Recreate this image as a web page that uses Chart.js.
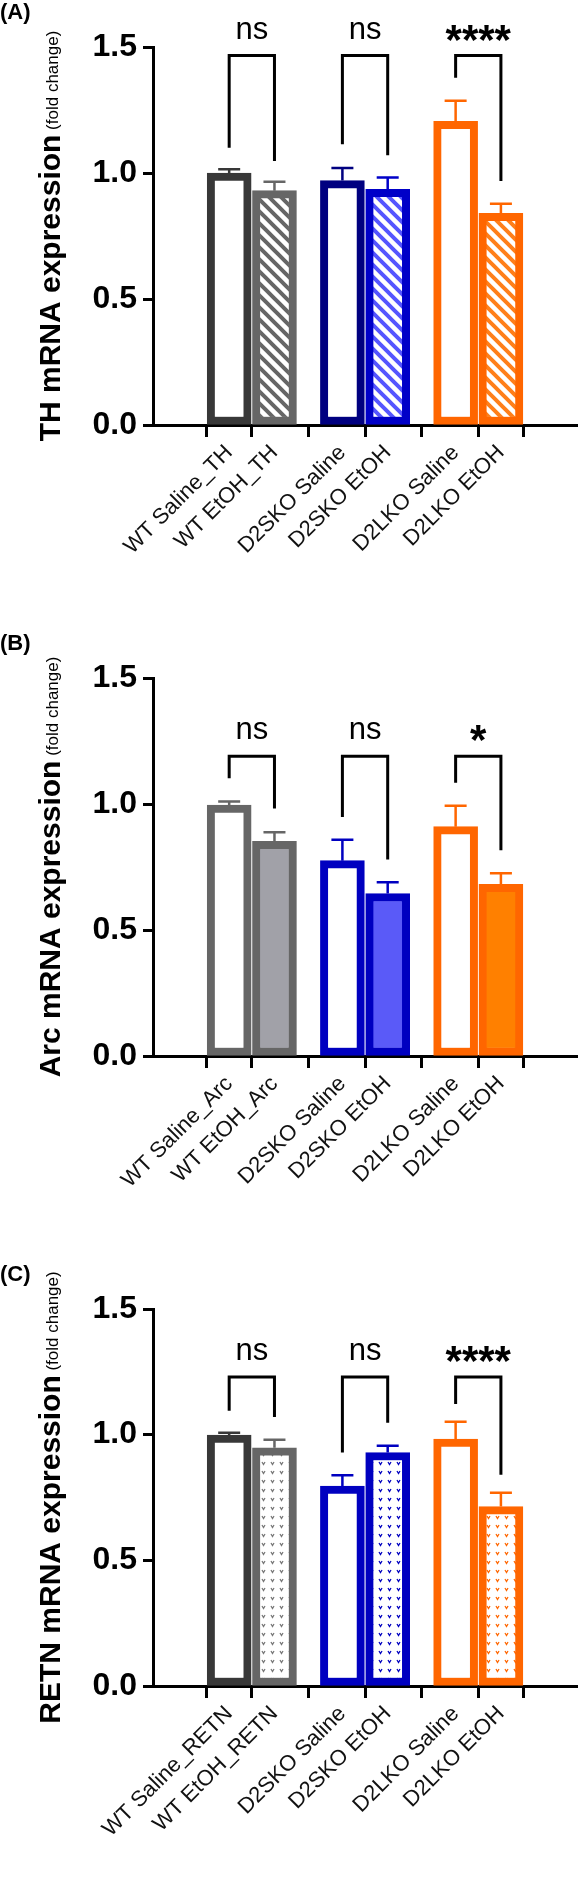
<!DOCTYPE html>
<html>
<head>
<meta charset="utf-8">
<script src="https://cdn.jsdelivr.net/npm/chart.js@4.4.1/dist/chart.umd.min.js"></script>
<style>
  body { margin: 0; background: #fff; }
  canvas { display: block; }
</style>
</head>
<body>
<canvas id="chartA" width="578" height="631"></canvas>
<canvas id="chartB" width="578" height="631"></canvas>
<canvas id="chartC" width="578" height="630"></canvas>
<script>
// panel A - TH
const labelsA = ['WT Saline_TH', 'WT EtOH_TH', 'D2SKO Saline', 'D2SKO EtOH', 'D2LKO Saline', 'D2LKO EtOH'];
const valuesA = [1.00, 0.93, 0.97, 0.935, 1.205, 0.84];
const errorsA = [0.015, 0.035, 0.05, 0.047, 0.082, 0.038];
const sigA = ['ns', 'ns', '****'];
const bracketTopA = [1.466, 1.466, 1.466];
const bracketLegsA = [[1.10, 1.048], [1.114, 1.07], [1.378, 0.968]];

// panel B - Arc
const labelsB = ['WT Saline_Arc', 'WT EtOH_Arc', 'D2SKO Saline', 'D2SKO EtOH', 'D2LKO Saline', 'D2LKO EtOH'];
const valuesB = [0.996, 0.852, 0.775, 0.645, 0.91, 0.681];
const errorsB = [0.014, 0.036, 0.083, 0.044, 0.083, 0.044];
const sigB = ['ns', 'ns', '*'];
const bracketTopB = [1.189, 1.189, 1.189];
const bracketLegsB = [[1.102, 0.982], [0.948, 0.78], [1.084, 0.816]];

// panel C - RETN
const labelsC = ['WT Saline_RETN', 'WT EtOH_RETN', 'D2SKO Saline', 'D2SKO EtOH', 'D2LKO Saline', 'D2LKO EtOH'];
const valuesC = [0.998, 0.948, 0.795, 0.929, 0.982, 0.714];
const errorsC = [0.01, 0.032, 0.044, 0.027, 0.069, 0.055];
const sigC = ['ns', 'ns', '****'];
const bracketTopC = [1.229, 1.229, 1.229];
const bracketLegsC = [[1.095, 1.07], [0.929, 1.047], [1.122, 0.841]];

const yTicks = [0, 0.5, 1.0, 1.5];
const FONT = '"Liberation Sans", Arial, sans-serif';

function stripes(color) {
  const c = document.createElement('canvas');
  c.width = 12; c.height = 12;
  const g = c.getContext('2d');
  g.fillStyle = '#fff'; g.fillRect(0, 0, 12, 12);
  g.strokeStyle = color; g.lineWidth = 4;
  g.beginPath();
  g.moveTo(-3, -3); g.lineTo(15, 15);
  g.moveTo(-15, -3); g.lineTo(3, 15);
  g.moveTo(9, -3); g.lineTo(27, 15);
  g.stroke();
  return g.createPattern(c, 'repeat');
}

function dots(color) {
  const c = document.createElement('canvas');
  c.width = 9; c.height = 9;
  const g = c.getContext('2d');
  g.fillStyle = '#fff'; g.fillRect(0, 0, 9, 9);
  g.strokeStyle = color; g.lineWidth = 1.3;
  g.beginPath();
  g.moveTo(1, 2); g.lineTo(2.5, 4.5); g.lineTo(4, 2);
  g.stroke();
  return g.createPattern(c, 'repeat');
}

// x slot of each bar: pairs with a wider gap between groups
const slots = [0, 1, 2.5, 3.5, 5, 6];

function makePanel(id, letter, gene, labels, values, errors, sig, tops, legs, borders, fills) {
  const errorPlugin = {
    id: 'errs' + letter,
    afterDatasetsDraw(chart) {
      const ctx = chart.ctx, y = chart.scales.y;
      const meta = chart.getDatasetMeta(0);
      ctx.save();
      meta.data.forEach((el, i) => {
        const y0 = y.getPixelForValue(values[i]);
        const y1 = y.getPixelForValue(values[i] + errors[i]);
        ctx.strokeStyle = borders[i];
        ctx.lineWidth = 2.5;
        ctx.beginPath();
        ctx.moveTo(el.x, y0); ctx.lineTo(el.x, y1);
        ctx.moveTo(el.x - 11, y1); ctx.lineTo(el.x + 11, y1);
        ctx.stroke();
      });
      // significance brackets
      ctx.strokeStyle = '#000';
      ctx.fillStyle = '#000';
      ctx.lineWidth = 3;
      for (let g = 0; g < 3; g++) {
        const a = meta.data[g * 2].x, b = meta.data[g * 2 + 1].x;
        const top = y.getPixelForValue(tops[g]);
        ctx.beginPath();
        ctx.moveTo(a, y.getPixelForValue(legs[g][0]));
        ctx.lineTo(a, top); ctx.lineTo(b, top);
        ctx.lineTo(b, y.getPixelForValue(legs[g][1]));
        ctx.stroke();
        ctx.textAlign = 'center';
        ctx.textBaseline = 'alphabetic';
        if (sig[g] === 'ns') {
          ctx.font = '31px ' + FONT;
          ctx.fillText('ns', (a + b) / 2, top - 17);
        } else {
          ctx.font = 'bold 42px ' + FONT;
          ctx.fillText(sig[g], (a + b) / 2, top - 2);
        }
      }
      // panel letter and y title
      ctx.textAlign = 'left';
      ctx.textBaseline = 'top';
      ctx.font = 'bold 22px ' + FONT;
      ctx.fillText('(' + letter + ')', 0, 2);
      const main = gene + ' mRNA expression';
      const small = ' (fold change)';
      ctx.font = 'bold 30px ' + FONT;
      const w1 = ctx.measureText(main).width;
      ctx.font = '17px ' + FONT;
      const w2 = ctx.measureText(small).width;
      const cy = (chart.chartArea.top + chart.chartArea.bottom) / 2;
      ctx.translate(60, cy + (w1 + w2) / 2);
      ctx.rotate(-Math.PI / 2);
      ctx.textBaseline = 'alphabetic';
      ctx.font = 'bold 30px ' + FONT;
      ctx.fillText(main, 0, 0);
      ctx.font = '17px ' + FONT;
      ctx.fillText(small, w1, -2);
      ctx.restore();
    }
  };

  new Chart(document.getElementById(id), {
    type: 'bar',
    data: {
      datasets: [{
        data: values.map((v, i) => ({ x: slots[i], y: v })),
        backgroundColor: fills,
        borderColor: borders,
        borderWidth: 8,
        borderSkipped: false,
        barThickness: 44
      }]
    },
    options: {
      responsive: false,
      animation: false,
      layout: { padding: { top: 47, right: 0, left: 0, bottom: 0 } },
      plugins: { legend: { display: false }, tooltip: { enabled: false } },
      scales: {
        x: {
          type: 'linear',
          min: -0.9, max: 6.92,
          afterBuildTicks: s => { s.ticks = slots.map(v => ({ value: v })); },
          afterFit: s => { s.height = 206; s.paddingLeft = 0; s.paddingRight = 0; },
          grid: { drawOnChartArea: false, tickLength: 12, tickWidth: 3, color: '#000' },
          border: { color: '#000', width: 3 },
          ticks: {
            autoSkip: false, minRotation: 45, maxRotation: 45,
            color: '#111', font: { family: FONT, size: 22 },
            callback: (v, i) => labels[i]
          }
        },
        y: {
          min: 0, max: 1.5,
          afterBuildTicks: s => { s.ticks = yTicks.map(v => ({ value: v })); },
          afterFit: s => { s.width = 153; s.paddingTop = 0; s.paddingBottom = 0; },
          grid: { drawOnChartArea: false, tickLength: 10, tickWidth: 3, color: '#000' },
          border: { color: '#000', width: 3 },
          ticks: {
            color: '#000', padding: 6,
            font: { family: FONT, size: 32, weight: 'bold' },
            callback: v => v.toFixed(1)
          }
        }
      }
    },
    plugins: [errorPlugin]
  });
}

makePanel('chartA', 'A', 'TH', labelsA, valuesA, errorsA, sigA, bracketTopA, bracketLegsA,
  ['#383838', '#666666', '#000080', '#0000c8', '#ff6600', '#ff6600'],
  ['#ffffff', stripes('#666666'), '#ffffff', stripes('#5555ff'), '#ffffff', stripes('#ff7f1a')]);

makePanel('chartB', 'B', 'Arc', labelsB, valuesB, errorsB, sigB, bracketTopB, bracketLegsB,
  ['#666666', '#666666', '#0000c0', '#0000c0', '#ff6600', '#ff6600'],
  ['#ffffff', '#a1a1a8', '#ffffff', '#5a5af8', '#ffffff', '#ff8000']);

makePanel('chartC', 'C', 'RETN', labelsC, valuesC, errorsC, sigC, bracketTopC, bracketLegsC,
  ['#383838', '#666666', '#0000c0', '#0000c0', '#ff6600', '#ff6600'],
  ['#ffffff', dots('#777777'), '#ffffff', dots('#0000c0'), '#ffffff', dots('#ff6600')]);
</script>
</body>
</html>
